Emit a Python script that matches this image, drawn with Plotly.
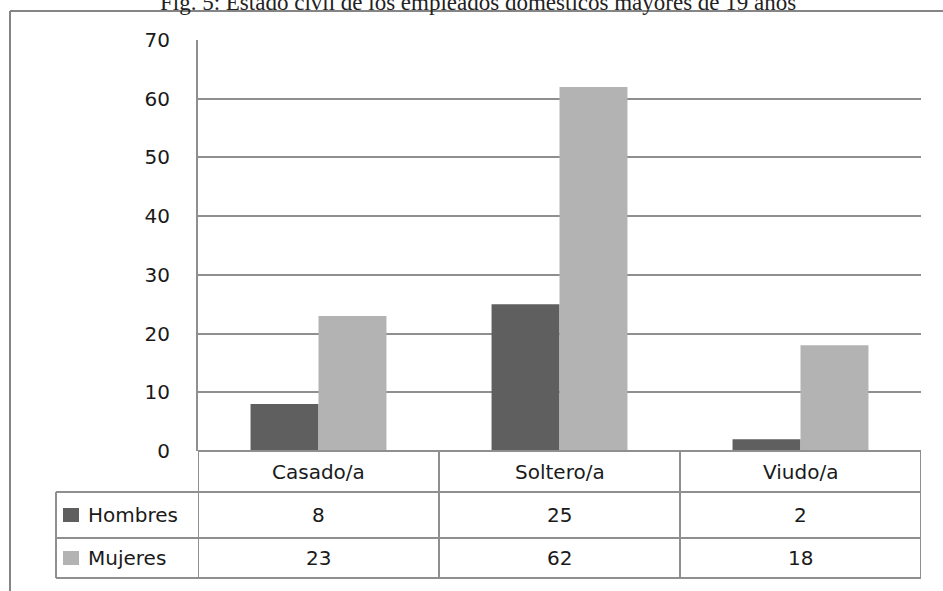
import plotly.graph_objects as go

# Data
categories = ["Casado/a", "Soltero/a", "Viudo/a"]
series_names = ["Hombres", "Mujeres"]
hombres = [8, 25, 2]
mujeres = [23, 62, 18]
y_ticks = [0, 10, 20, 30, 40, 50, 60, 70]
title_text = "Fig. 5: Estado civil de los empleados domésticos mayores de 19 años"

W, H = 943, 591
colors = {"Hombres": "#5f5f5f", "Mujeres": "#b3b3b3"}
line_col = "#8f8f8f"
txt_col = "#1a1a1a"
font_family = "DejaVu Sans"
font_size = 20


def px(x):
    return x / W


def py(y):
    return 1 - y / H


fig = go.Figure()
for name, vals in zip(series_names, [hombres, mujeres]):
    fig.add_trace(go.Bar(
        x=categories, y=vals, name=name,
        marker=dict(color=colors[name], line=dict(width=0)),
        showlegend=False,
    ))

shapes = []
annotations = []

# Outer frame (top and left edges)
shapes.append(dict(type="line", xref="paper", yref="paper",
                   x0=px(10), x1=px(943), y0=py(11), y1=py(11),
                   line=dict(color="#858585", width=2)))
shapes.append(dict(type="line", xref="paper", yref="paper",
                   x0=px(10), x1=px(10), y0=py(11), y1=py(591),
                   line=dict(color="#858585", width=2)))

# Data table under the plot
row_lines = [451, 492, 538, 578]
table_left = 56
col_bounds = [-0.5, 0.5, 1.5, 2.5]
tbl_line = dict(color=line_col, width=2)

# horizontal lines
shapes.append(dict(type="line", xref="paper", yref="paper",
                   x0=px(198), x1=px(921), y0=py(row_lines[0]), y1=py(row_lines[0]),
                   line=tbl_line))
for yl in row_lines[1:]:
    shapes.append(dict(type="line", xref="paper", yref="paper",
                       x0=px(table_left), x1=px(921), y0=py(yl), y1=py(yl),
                       line=tbl_line))
# vertical lines
for cb in col_bounds:
    shapes.append(dict(type="line", xref="x", yref="paper",
                       x0=cb, x1=cb, y0=py(row_lines[0]), y1=py(row_lines[-1]),
                       line=tbl_line))
shapes.append(dict(type="line", xref="paper", yref="paper",
                   x0=px(table_left), x1=px(table_left),
                   y0=py(row_lines[1]), y1=py(row_lines[-1]), line=tbl_line))

tfont = dict(family=font_family, size=font_size, color=txt_col)

# category header row
for i, cat in enumerate(categories):
    annotations.append(dict(xref="x", yref="paper", x=i,
                            y=py((row_lines[0] + row_lines[1]) / 2),
                            text=cat, showarrow=False, font=tfont,
                            xanchor="center", yanchor="middle"))

# series rows with legend keys
for r, (name, vals) in enumerate(zip(series_names, [hombres, mujeres])):
    top, bot = row_lines[r + 1], row_lines[r + 2]
    mid = (top + bot) / 2
    shapes.append(dict(type="rect", xref="paper", yref="paper",
                       x0=px(63), x1=px(79), y0=py(mid - 7), y1=py(mid + 7),
                       fillcolor=colors[name], line=dict(width=0)))
    annotations.append(dict(xref="paper", yref="paper", x=px(86), y=py(mid),
                            text=name, showarrow=False, font=tfont,
                            xanchor="left", yanchor="middle"))
    for i, v in enumerate(vals):
        annotations.append(dict(xref="x", yref="paper", x=i, y=py(mid),
                                text=str(v), showarrow=False, font=tfont,
                                xanchor="center", yanchor="middle"))

# Title (runs past the top edge of the page)
annotations.append(dict(xref="paper", yref="paper", x=px(478), y=py(17),
                        text=title_text, showarrow=False,
                        font=dict(family="Liberation Serif", size=23, color="#222222"),
                        xanchor="center", yanchor="bottom"))

fig.update_layout(
    width=W, height=H, autosize=False,
    margin=dict(l=0, r=0, t=0, b=0, pad=0, autoexpand=False),
    paper_bgcolor="white", plot_bgcolor="white",
    barmode="group", bargap=0.436, bargroupgap=0,
    shapes=shapes, annotations=annotations,
    xaxis=dict(domain=[px(198), px(921)], showticklabels=False,
               showgrid=False, zeroline=False, showline=False, automargin=False,
               range=[-0.5, 2.5], fixedrange=True),
    yaxis=dict(domain=[py(451), py(40)], range=[0, 70], automargin=False,
               tickvals=y_ticks, ticktext=[str(t) for t in y_ticks],
               showgrid=True, gridcolor=line_col, gridwidth=2,
               zeroline=False, showline=True, linecolor=line_col, linewidth=2,
               ticks="", ticklabelstandoff=22,
               tickfont=dict(family=font_family, size=font_size, color=txt_col)),
)

fig.write_html("out.html")
